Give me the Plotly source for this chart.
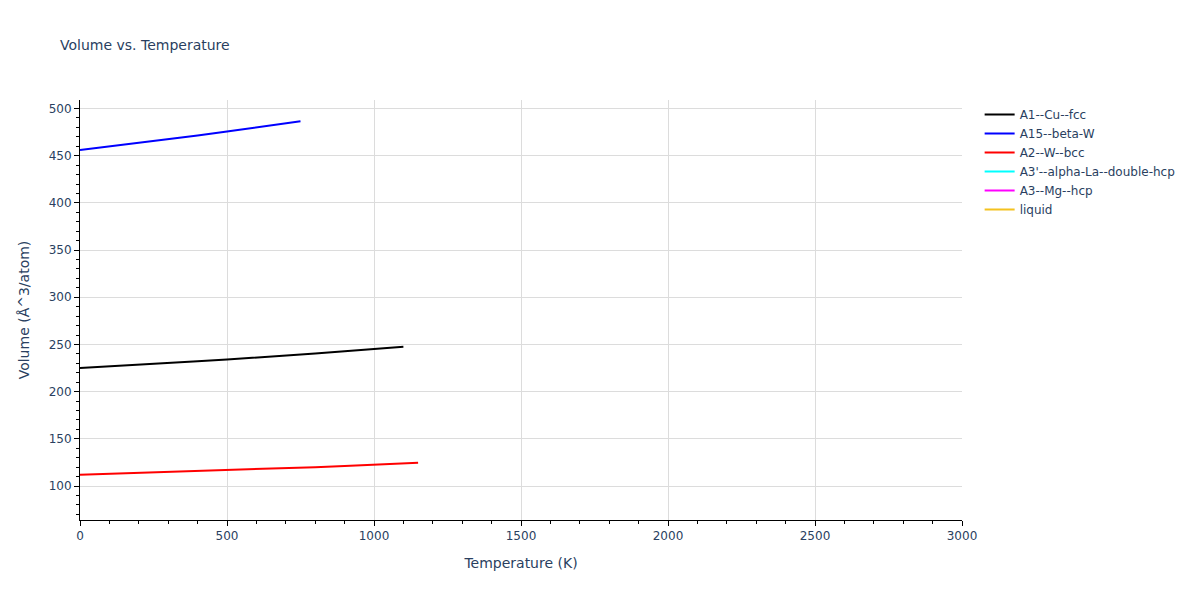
import plotly.graph_objects as go

# Temperature (K) and volume (Å^3/atom)
t_fcc = [0, 100, 200, 300, 400, 500, 600, 700, 800, 900, 1000, 1100]
v_fcc = [225.0, 226.6, 228.4, 230.2, 232.1, 234.0, 235.9, 237.9, 240.4, 242.9, 245.3, 247.6]

t_betaw = [0, 100, 200, 300, 400, 500, 600, 700, 750]
v_betaw = [456.0, 459.7, 463.4, 467.3, 471.4, 475.6, 479.8, 484.1, 486.4]

t_bcc = [0, 100, 200, 300, 400, 500, 600, 700, 800, 900, 1000, 1100, 1150]
v_bcc = [112.0, 112.9, 113.9, 114.8, 115.8, 116.8, 117.8, 118.9, 120.0, 121.2, 122.5, 123.9, 124.7]

# phases listed in the legend but with nothing drawn
t_empty = [None]
v_empty = [None]

series = [
    ("A1--Cu--fcc", t_fcc, v_fcc, "black"),
    ("A15--beta-W", t_betaw, v_betaw, "blue"),
    ("A2--W--bcc", t_bcc, v_bcc, "red"),
    ("A3'--alpha-La--double-hcp", t_empty, v_empty, "cyan"),
    ("A3--Mg--hcp", t_empty, v_empty, "magenta"),
    ("liquid", t_empty, v_empty, "#f4c21f"),
]

fig = go.Figure()
for name, x, y, color in series:
    fig.add_trace(go.Scatter(x=x, y=y, mode="lines", name=name,
                             line=dict(color=color, width=2)))

axis_style = dict(showline=True, linecolor="black", linewidth=1,
                  ticks="outside", ticklen=5, tickcolor="black",
                  gridcolor="#dcdcdc", zeroline=False,
                  tickfont=dict(size=12), title_font=dict(size=14))

fig.update_layout(
    template="plotly_white",
    width=1200, height=600,
    margin=dict(l=72, r=246, t=92, b=88, autoexpand=False),
    font=dict(family="DejaVu Sans", size=12, color="#2a3f5f"),
    title=dict(text="Volume vs. Temperature", font=dict(size=14),
               x=52 / 1200, xanchor="left", y=1 - 37 / 600, yanchor="middle"),
    legend=dict(font=dict(size=12), x=1.02, y=1, xanchor="left", yanchor="top"),
    xaxis=dict(title="Temperature (K)", range=[0, 3000], dtick=500,
               minor=dict(ticks="outside", ticklen=3, dtick=100, tickcolor="black"),
               **axis_style),
    yaxis=dict(title="Volume (Å^3/atom)", range=[64, 509], dtick=50,
               minor=dict(ticks="outside", ticklen=3, dtick=10, tickcolor="black"),
               **axis_style),
)

fig.write_html("out.html")
